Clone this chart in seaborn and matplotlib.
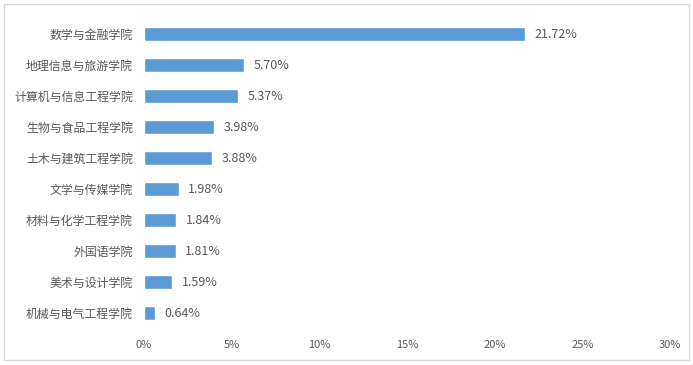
import matplotlib
matplotlib.use('Agg')
import matplotlib.pyplot as plt
import seaborn as sns
import pandas as pd
from matplotlib.patches import Rectangle

# données
colleges = ['数学与金融学院', '地理信息与旅游学院', '计算机与信息工程学院', '生物与食品工程学院',
            '土木与建筑工程学院', '文学与传媒学院', '材料与化学工程学院', '外国语学院',
            '美术与设计学院', '机械与电气工程学院']
shares = [21.72, 5.70, 5.37, 3.98, 3.88, 1.98, 1.84, 1.81, 1.59, 0.64]
xticks = [0, 5, 10, 15, 20, 25, 30]

df = pd.DataFrame({'学院': colleges, '占比': shares})

sns.set_style('white')
plt.rcParams['font.family'] = ['Noto Sans CJK SC', 'DejaVu Sans']

fig = plt.figure(figsize=(6.93, 3.65), dpi=100)
ax = fig.add_axes([0.2078, 0.100, 0.759, 0.849])

sns.barplot(data=df, x='占比', y='学院', color='#5B9BD5', width=0.45,
            saturation=1, ax=ax)

for i, v in enumerate(shares):
    ax.text(v + 0.55, i, f'{v:.2f}%', va='center', ha='left',
            fontsize=9, color='#595959')

ax.set_xlim(0, 30)
ax.set_xticks(xticks)
ax.set_xticklabels([f'{t}%' for t in xticks])
ax.set_xlabel('')
ax.set_ylabel('')
ax.tick_params(axis='x', labelsize=8, colors='#595959', length=0, pad=8)
ax.tick_params(axis='y', labelsize=8.6, colors='#595959', length=0, pad=8)
for s in ax.spines.values():
    s.set_visible(False)

# cadre autour de la figure
fig.patches.append(Rectangle((4 / 693, 5 / 365), 685 / 693, 356 / 365,
                             transform=fig.transFigure, fill=False,
                             edgecolor='#D9D9D9', linewidth=1))

fig.savefig('out.png', dpi=100)
